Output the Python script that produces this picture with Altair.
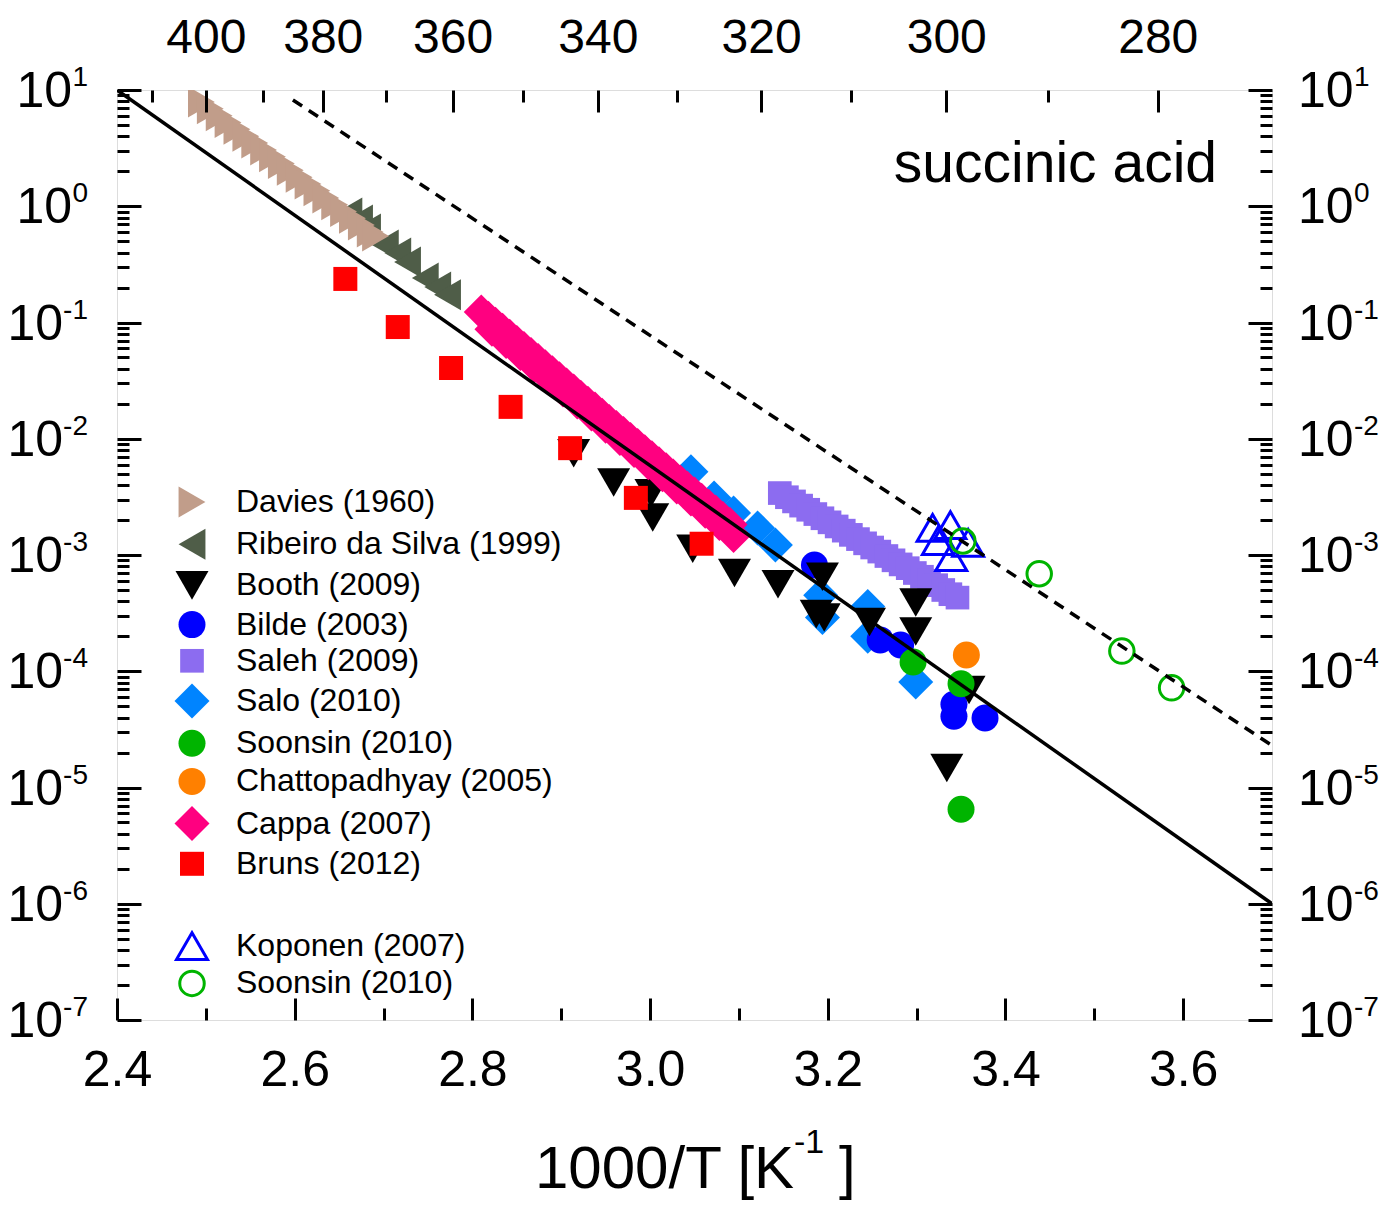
import altair as alt
import pandas as pd

W, H = 1155, 930
FONT = "Liberation Sans"

# ---------------- data (x = 1000/T, y = vapour pressure) ----------------
davies_x = [2.495, 2.505, 2.515, 2.525, 2.535, 2.545, 2.555, 2.565, 2.575, 2.585, 2.595,
            2.605, 2.615, 2.625, 2.635, 2.645, 2.655, 2.665, 2.675, 2.685, 2.691]
davies_y = [7.9, 6.9, 6.0, 5.25, 4.6, 4.0, 3.5, 3.05, 2.67, 2.33, 2.04,
            1.78, 1.55, 1.36, 1.18, 1.03, 0.90, 0.79, 0.69, 0.60, 0.555]

ribeiro_x = [2.661, 2.673, 2.682, 2.702, 2.716, 2.727, 2.747, 2.761, 2.772]
ribeiro_y = [0.875, 0.762, 0.637, 0.465, 0.396, 0.331, 0.242, 0.202, 0.173]

booth_x = [2.914, 2.959, 3.001, 3.003, 3.048, 3.095, 3.144, 3.194, 3.187, 3.196,
           3.247, 3.299, 3.299, 3.359, 3.334]
booth_y = [7.5e-3, 4.2e-3, 3.4e-3, 2.1e-3, 1.13e-3, 7.0e-4, 5.6e-4, 6.5e-4, 3.1e-4, 2.9e-4,
           2.65e-4, 3.9e-4, 2.2e-4, 6.9e-5, 1.47e-5]

bilde_x = [3.185, 3.259, 3.282, 3.342, 3.342, 3.377]
bilde_y = [8.2e-4, 1.86e-4, 1.68e-4, 5.2e-5, 4.1e-5, 3.96e-5]

saleh_x = [3.146, 3.154, 3.162, 3.170, 3.178, 3.186, 3.194, 3.202, 3.210, 3.218, 3.226, 3.234, 3.242,
           3.250, 3.258, 3.266, 3.274, 3.282, 3.290, 3.298, 3.306, 3.314, 3.322, 3.330, 3.338, 3.346]
saleh_y = [3.41e-3, 3.14e-3, 2.89e-3, 2.66e-3, 2.45e-3, 2.25e-3, 2.07e-3, 1.91e-3, 1.76e-3, 1.62e-3,
           1.49e-3, 1.37e-3, 1.26e-3, 1.16e-3, 1.07e-3, 9.8e-4, 9.0e-4, 8.3e-4, 7.7e-4, 7.0e-4,
           6.5e-4, 6.0e-4, 5.5e-4, 5.0e-4, 4.6e-4, 4.3e-4]

salo_x = [3.046, 3.072, 3.094, 3.121, 3.141, 3.192, 3.194, 3.245, 3.245, 3.299]
salo_y = [5.2e-3, 3.1e-3, 2.3e-3, 1.71e-3, 1.22e-3, 4.5e-4, 2.9e-4, 3.6e-4, 2.0e-4, 8.1e-5]

soonsin_x = [3.296, 3.350, 3.350]
soonsin_y = [1.2e-4, 7.8e-5, 6.5e-6]

chatto_x = [3.356]
chatto_y = [1.38e-4]

cappa_x = [2.810, 2.818, 2.826, 2.834, 2.842, 2.850, 2.858, 2.866, 2.874, 2.882, 2.890, 2.898,
           2.906, 2.914, 2.922, 2.930, 2.938, 2.946, 2.954, 2.962, 2.970, 2.978, 2.986, 2.994,
           3.002, 3.010, 3.018, 3.026, 3.034, 3.042, 3.050, 3.058, 3.066, 3.074, 3.082, 3.090,
           2.822, 2.838, 2.854, 2.870, 2.886, 2.902, 2.918, 2.934, 2.950, 2.966, 2.982, 2.998,
           3.014, 3.030, 3.046, 3.062, 3.078, 3.094]
cappa_y = [0.123, 0.109, 0.0967, 0.0858, 0.0760, 0.0674, 0.0598, 0.0530, 0.0470, 0.0417, 0.0369, 0.0328,
           0.0290, 0.0258, 0.0228, 0.0202, 0.0180, 0.0159, 0.0141, 0.0125, 0.0111, 0.00985, 0.00873, 0.00774,
           0.00687, 0.00609, 0.00540, 0.00479, 0.00424, 0.00376, 0.00334, 0.00296, 0.00262, 0.00233, 0.00206,
           0.00183,
           0.0875, 0.0688, 0.0541, 0.0425, 0.0335, 0.0263, 0.0207, 0.0163, 0.0128, 0.01007, 0.00792, 0.00622,
           0.00490, 0.00385, 0.00303, 0.00238, 0.00187, 0.00147]

bruns_x = [2.657, 2.716, 2.776, 2.843, 2.910, 2.984, 3.058]
bruns_y = [0.237, 0.0914, 0.0406, 0.0188, 0.0083, 0.0031, 0.00125]

koponen_x = [3.318, 3.338, 3.324, 3.358, 3.339]
koponen_y = [1.71e-3, 1.81e-3, 1.32e-3, 1.27e-3, 9.6e-4]

soonsin_open_x = [3.352, 3.438, 3.531, 3.587]
soonsin_open_y = [1.32e-3, 6.9e-4, 1.49e-4, 7.2e-5]

solid_x = [2.4, 3.7]
solid_y = [10.0, 1.0e-6]
dashed_x = [2.598, 3.7]
dashed_y = [8.2, 2.3e-5]

# legend / style tables
series_order = ["Davies (1960)", "Ribeiro da Silva (1999)", "Booth (2009)", "Bilde (2003)",
                "Saleh (2009)", "Salo (2010)", "Soonsin (2010)", "Chattopadhyay (2005)",
                "Cappa (2007)", "Bruns (2012)", " ", "Koponen (2007)", "Soonsin (2010) "]
shapes = ["triangle-right", "triangle-left", "triangle-down", "circle", "square", "diamond",
          "circle", "circle", "diamond", "square", "circle", "triangle-up", "circle"]
fills = ["#C19D8A", "#4F5D48", "#000000", "#0000FF", "#8C6CF0", "#0084FF", "#00B400", "#FF8000",
         "#FF0080", "#FF0000", "transparent", "transparent", "transparent"]
strokes = ["transparent"] * 11 + ["#0000FF", "#00B400"]
sizes = [960, 960, 1089, 729, 560, 1225, 729, 729, 1225, 576, 1225, 960, 600]

# draw order (back to front)
draw = [
    ("Ribeiro da Silva (1999)", ribeiro_x, ribeiro_y),
    ("Davies (1960)", davies_x, davies_y),
    ("Saleh (2009)", saleh_x, saleh_y),
    ("Salo (2010)", salo_x, salo_y),
    ("Bilde (2003)", bilde_x, bilde_y),
    ("Booth (2009)", booth_x, booth_y),
    ("Soonsin (2010)", soonsin_x, soonsin_y),
    ("Chattopadhyay (2005)", chatto_x, chatto_y),
    ("Cappa (2007)", cappa_x, cappa_y),
    ("Bruns (2012)", bruns_x, bruns_y),
    ("Koponen (2007)", koponen_x, koponen_y),
    ("Soonsin (2010) ", soonsin_open_x, soonsin_open_y),
]
rows = []
for name, xs_, ys_ in draw:
    for a, b in zip(xs_, ys_):
        rows.append({"x": a, "y": b, "series": name, "idx": len(rows)})
points_df = pd.DataFrame(rows)

solid_df = pd.DataFrame({"x": solid_x, "y": solid_y})
dashed_df = pd.DataFrame({"x": dashed_x, "y": dashed_y})

# axis tick values
x_major = [2.4, 2.6, 2.8, 3.0, 3.2, 3.4, 3.6]
x_minor = [2.5, 2.7, 2.9, 3.1, 3.3, 3.5]
t_major = [400, 380, 360, 340, 320, 300, 280]
t_minor = [410, 390, 370, 350, 330, 310, 290]
y_exp = [1, 0, -1, -2, -3, -4, -5, -6, -7]
y_major = [10.0 ** e for e in y_exp]
y_minor = [k * 10.0 ** e for e in range(-7, 1) for k in range(2, 10)]

xs = alt.Scale(domain=[2.4, 3.7], nice=False, zero=False)
ys = alt.Scale(type="log", domain=[1e-7, 10], nice=False)


def tick_axis(orient, offset, values, size):
    return alt.Axis(orient=orient, offset=offset, values=values, labels=False, domain=False,
                    grid=False, ticks=True, tickSize=size, tickWidth=3, tickColor="black",
                    title=None, zindex=1)


def axis_layer(xaxis, yaxis):
    return alt.Chart(solid_df).mark_line(opacity=0).encode(
        x=alt.X("x:Q", scale=xs, axis=xaxis),
        y=alt.Y("y:Q", scale=ys, axis=yaxis),
    )


bottom_labels = alt.Axis(orient="bottom", values=x_major, format=".1f", ticks=False, domain=False,
                         grid=False, labelFontSize=50, labelFont=FONT, labelColor="black",
                         labelPadding=25, labelFlush=False, labelOverlap=False, title=None)
top_labels = alt.Axis(orient="top", values=[1000.0 / t for t in t_major],
                      labelExpr="format(1000/datum.value, '.0f')", ticks=False, domain=False,
                      grid=False, labelFontSize=48, labelFont=FONT, labelColor="black",
                      labelPadding=28, labelFlush=False, labelOverlap=False, title=None)

axis_layers = [
    axis_layer(bottom_labels, tick_axis("right", -W, y_major, 24)),
    axis_layer(tick_axis("top", -H, x_major, 22), tick_axis("right", -W, y_minor, 12)),
    axis_layer(tick_axis("top", -H, x_minor, 12), tick_axis("left", -W, y_major, 24)),
    axis_layer(top_labels, tick_axis("left", -W, y_minor, 12)),
    axis_layer(tick_axis("bottom", -H, [1000.0 / t for t in t_major], 22), None),
    axis_layer(tick_axis("bottom", -H, [1000.0 / t for t in t_minor], 12), None),
]

leg = alt.Legend(orient="none", legendX=56, legendY=395, title=None, labelFontSize=32,
                 labelFont=FONT, labelColor="black", labelLimit=700, symbolStrokeWidth=3,
                 rowPadding=-1.8, labelOffset=25, padding=0, symbolOpacity=1)

points = alt.Chart(points_df).mark_point(filled=True, opacity=1, strokeWidth=3, clip=True).encode(
    x=alt.X("x:Q", scale=xs, axis=None),
    y=alt.Y("y:Q", scale=ys, axis=None),
    fill=alt.Fill("series:N", scale=alt.Scale(domain=series_order, range=fills), legend=leg),
    stroke=alt.Stroke("series:N", scale=alt.Scale(domain=series_order, range=strokes), legend=leg),
    shape=alt.Shape("series:N", scale=alt.Scale(domain=series_order, range=shapes), legend=leg),
    size=alt.Size("series:N", scale=alt.Scale(type="ordinal", domain=series_order, range=sizes),
                  legend=leg),
    order=alt.Order("idx:Q"),
)

solid = alt.Chart(solid_df).mark_line(color="black", strokeWidth=3.5, clip=True).encode(
    x=alt.X("x:Q", scale=xs, axis=None), y=alt.Y("y:Q", scale=ys, axis=None))
dashed = alt.Chart(dashed_df).mark_line(color="black", strokeWidth=3.5, strokeDash=[11, 8],
                                        clip=True).encode(
    x=alt.X("x:Q", scale=xs, axis=None), y=alt.Y("y:Q", scale=ys, axis=None))

# y-axis labels "10" with superscript exponents
ylab_df = pd.DataFrame({"v": y_major, "e": [str(e) for e in y_exp], "n": y_exp})


def ylab(filter_expr, text_field, x, align, size, dy):
    return alt.Chart(ylab_df).transform_filter(filter_expr).mark_text(
        align=align, baseline="middle", fontSize=size, font=FONT, color="black", dy=dy
    ).encode(x=alt.value(x), y=alt.Y("v:Q", scale=ys, axis=None), text=text_field)


ylabels = [
    ylab("datum.n >= 0", alt.value("10"), -45, "right", 50, 2),
    ylab("datum.n < 0", alt.value("10"), -54, "right", 50, 2),
    ylab("true", "e:N", -29, "right", 28, -12),
    ylab("true", alt.value("10"), W + 26, "left", 50, 2),
    ylab("true", "e:N", W + 82, "left", 28, -12),
]


def label(text, x, y, size, align="left", baseline="alphabetic"):
    return alt.Chart(pd.DataFrame({"t": [text]})).mark_text(
        align=align, baseline=baseline, fontSize=size, font=FONT, color="black"
    ).encode(x=alt.value(x), y=alt.value(y), text="t:N")


titles = [
    label("1000/T [K", 418, 1098, 60),
    label("-1", 677, 1063, 34),
    label("]", 722, 1098, 60),
    label("succinic acid", 1100, 92, 57, align="right"),
]

chart = alt.layer(*axis_layers, points, solid, dashed, *ylabels, *titles).resolve_axis(
    x="independent", y="independent"
).properties(
    width=W, height=H,
    padding={"left": 109, "top": 82, "right": 108, "bottom": 182},
    autosize=alt.AutoSizeParams(type="none"),
).configure_view(stroke="black", strokeWidth=3).configure(font=FONT)

chart.save("out.html", embed_options={"renderer": "svg", "actions": False})
